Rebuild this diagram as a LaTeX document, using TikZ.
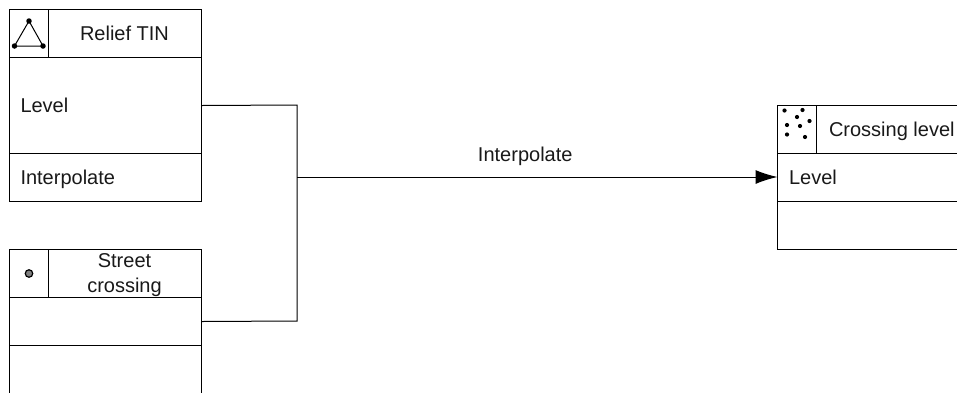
\documentclass[tikz,border=0pt]{standalone}
\usepackage{fontspec}
\setmainfont{Liberation Sans}
\usetikzlibrary{arrows.meta}
\tikzset{
  x=1pt,y=-1pt,
  cell/.style={draw=black,line width=0.9pt,inner sep=0,outer sep=0,anchor=north west,minimum width=#1},
  txt/.style={font=\fontsize{20}{24}\selectfont,inner sep=0,outer sep=0,text=black!90},
  link/.style={draw=black,line width=1pt},
  dotm/.style={circle,fill=black,inner sep=0,minimum size=#1},
}
\begin{document}
\begin{tikzpicture}
\useasboundingbox (0,0) rectangle (957,392);
\clip (0,0) rectangle (957,392);
% Relief TIN
\node[cell=192pt,minimum height=48pt] (a0) at (9.5,9.5) {};
\node[cell=192pt,minimum height=96pt] (a1) at (9.5,57.5) {};
\node[cell=192pt,minimum height=48pt] (a2) at (9.5,153.5) {};
\node[cell=38.5pt,minimum height=48pt] (a3) at (9.5,9.5) {};
\node[txt,anchor=base] (at) at (124.5,40.5) {Relief TIN};
\node[txt,anchor=base west] (al) at (20.5,112.5) {Level};
\node[txt,anchor=base west] (ai) at (20.5,184) {Interpolate};
\node[dotm=5.5pt] (t1) at (29,21) {};
\node[dotm=5.5pt] (t2) at (14.5,46) {};
\node[dotm=5.5pt] (t3) at (43,46) {};
\draw[line width=1pt] (t1.center) -- (t2.center) -- (t3.center) -- cycle;
% Street crossing
\node[cell=192pt,minimum height=48pt] (b0) at (9.5,249.5) {};
\node[cell=192pt,minimum height=48pt] (b1) at (9.5,297.5) {};
\node[cell=192pt,minimum height=80pt] (b2) at (9.5,345.5) {};
\node[cell=38.5pt,minimum height=48pt] (b3) at (9.5,249.5) {};
\node[txt,anchor=base] (bt1) at (124.5,267.5) {Street};
\node[txt,anchor=base] (bt2) at (124.5,292.5) {crossing};
\node[circle,draw=black,line width=1.2pt,fill=black!50,inner sep=0,minimum size=7.5pt] (bd) at (29,273.5) {};
% Crossing level
\node[cell=200pt,minimum height=48pt] (c0) at (777.5,105) {};
\node[cell=200pt,minimum height=48pt] (c1) at (777.5,153) {};
\node[cell=200pt,minimum height=48pt] (c2) at (777.5,201) {};
\node[cell=38.5pt,minimum height=48pt] (c3) at (777.5,105) {};
\node[txt,anchor=base west] (ct) at (829,136.5) {Crossing level};
\node[txt,anchor=base west] (cl) at (789,184) {Level};
\node[dotm=4.2pt] (d1) at (784.5,110.5) {};
\node[dotm=4.2pt] (d2) at (802.5,110) {};
\node[dotm=4.2pt] (d3) at (797,117) {};
\node[dotm=4.2pt] (d4) at (809.5,121) {};
\node[dotm=4.2pt] (d5) at (787,125) {};
\node[dotm=4.2pt] (d6) at (800,126) {};
\node[dotm=4.2pt] (d7) at (787,134.5) {};
\node[dotm=4.2pt] (d8) at (805,137) {};
% Connectors
\coordinate (j1) at (297,105);
\coordinate (j2) at (297,321);
\coordinate (j3) at (297,177);
\draw[link] (a1.east) -- (j1) -- (j2) -- (b1.east);
\draw[link,-{Latex[length=22pt,width=14pt]}] (j3) -- (c1.west) node[pos=0.475,above=11.5pt,txt] (il) {Interpolate};
\end{tikzpicture}
\end{document}
